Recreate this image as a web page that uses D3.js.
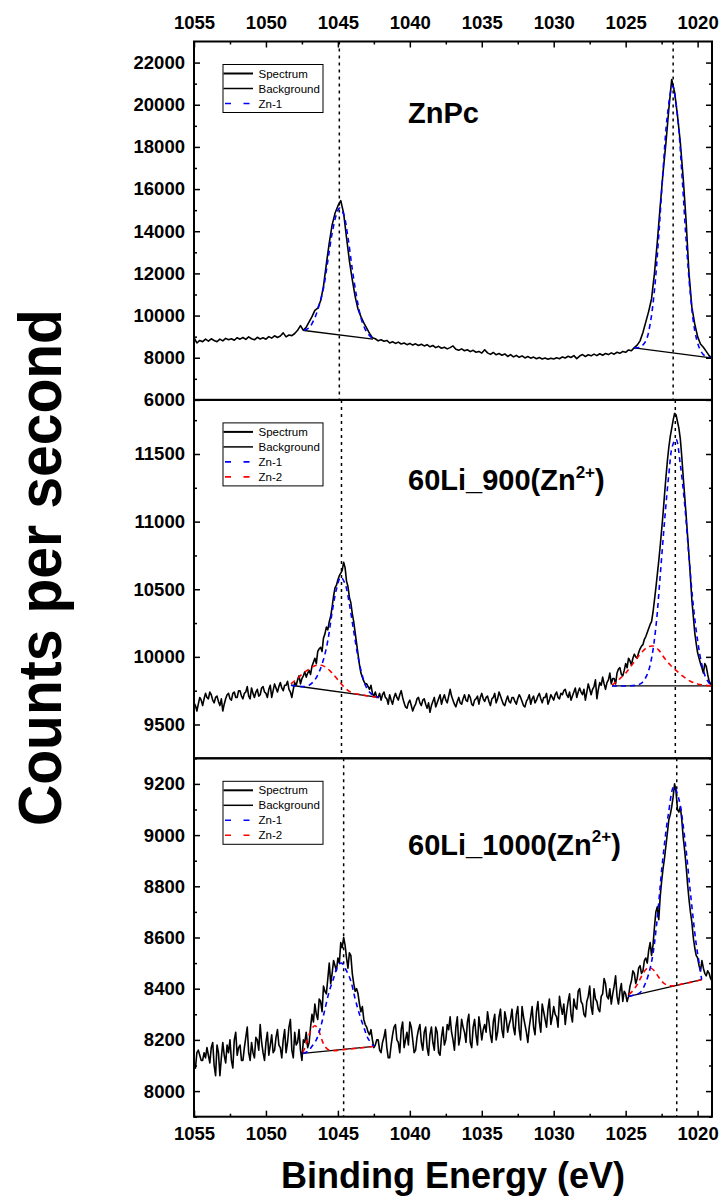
<!DOCTYPE html>
<html>
<head>
<meta charset="utf-8">
<title>Zn 2p XPS</title>
<script src="https://d3js.org/d3.v7.min.js"></script>
<style>
  body { margin: 0; background: #fff; }
  svg text { font-family: "Liberation Sans", Arial, sans-serif; fill: #000; }
  .axis .tick text { font-size: 18.5px; font-weight: bold; }
  .axis .tick line { stroke: #000; stroke-width: 1.5px; }
  .frame { fill: none; stroke: #000; stroke-width: 2px; }
  .spectrum { fill: none; stroke: #000; stroke-width: 1.6px; stroke-linejoin: round; }
  .background { fill: none; stroke: #000; stroke-width: 1.3px; }
  .zn1 { fill: none; stroke: #0000ff; stroke-width: 1.6px; stroke-dasharray: 5,4; }
  .zn2 { fill: none; stroke: #ff0000; stroke-width: 1.6px; stroke-dasharray: 5,4; }
  .marker { stroke: #000; stroke-width: 1.5px; stroke-dasharray: 3,4; }
  .legend rect { fill: #fff; stroke: #000; stroke-width: 1px; }
  .legend text { font-size: 11.5px; }
  .panel-label { font-size: 29px; font-weight: bold; }
</style>
</head>
<body>
<svg id="chart" width="722" height="1198"></svg>
<script>
// ---- data ----
const energyDomain = [1055, 1019];
const energyTicks = [1055, 1050, 1045, 1040, 1035, 1030, 1025, 1020];
const energyStart = 1055;   // every spectrum starts at 1055 eV and runs down in fixed steps

// ZnPc, every 0.2 eV
const znpcStep = 0.2;
const znpcSpectrum = [
  8950, 8700, 8820, 8760, 8880, 8790, 8900, 8820, 8760, 8880,     // 1055.0
  8800, 8920, 8850, 8900, 8830, 8950, 8880, 8960, 8870, 8990,     // 1053.0
  8900, 8850, 8970, 8890, 8950, 8880, 9000, 8930, 9040, 8960,     // 1051.0
  9030, 9180, 8990, 9080, 9050, 9150, 9300, 9520, 9300, 9450,     // 1049.0
  9700, 9950, 10250, 10350, 10700, 11400, 12450, 13450, 14300, 14850, // 1047.0
  15200, 15450, 14850, 13700, 12600, 11700, 10900, 10300, 9950, 9650, // 1045.0
  9400, 9150, 8950, 8900, 8800, 8850, 8780, 8820, 8700, 8760,     // 1043.0
  8680, 8740, 8650, 8700, 8620, 8680, 8600, 8660, 8580, 8640,     // 1041.0
  8560, 8620, 8520, 8580, 8480, 8540, 8450, 8500, 8420, 8480,     // 1039.0
  8560, 8400, 8360, 8420, 8330, 8380, 8290, 8350, 8260, 8300,     // 1037.0
  8220, 8380, 8230, 8160, 8250, 8140, 8200, 8120, 8180, 8060,     // 1035.0
  8150, 8040, 8110, 8020, 8090, 7990, 8060, 7980, 8030, 7950,     // 1033.0
  8010, 7940, 7990, 7930, 7980, 7940, 8000, 7950, 8040, 7990,     // 1031.0
  8070, 8010, 8100, 7960, 8080, 8150, 8060, 8140, 8090, 8170,     // 1029.0
  8100, 8190, 8120, 8200, 8150, 8230, 8170, 8260, 8210, 8300,     // 1027.0
  8260, 8370, 8330, 8480, 8600, 8800, 9200, 9700, 10200, 10800,   // 1025.0
  12000, 13500, 15200, 16800, 18200, 19800, 21200, 20600, 19500, 18200, // 1023.0
  16500, 14500, 12000, 10400, 9600, 9000, 8650, 8500, 8300, 8100, // 1021.0
  7950                                                            // 1019.0
];
const znpcBackground = [[[1047.35, 9292], [1042.56, 8879]], [[1024.4, 8470], [1019.07, 7995]]];
const znpcZn1Left = [[1047.35, 9300], [1047.0, 9420], [1046.6, 9900], [1046.3, 10500], [1046.0, 11300],
  [1045.7, 12600], [1045.4, 13900], [1045.1, 14800], [1044.88, 15100], [1044.6, 14800], [1044.3, 13700],
  [1044.0, 12200], [1043.7, 10900], [1043.4, 9900], [1043.1, 9350], [1042.8, 9050], [1042.55, 8900]];
const znpcZn1Right = [[1024.4, 8470], [1024.0, 8500], [1023.6, 8800], [1023.3, 9600], [1023.0, 11200],
  [1022.7, 13800], [1022.4, 16900], [1022.1, 19500], [1021.75, 20900], [1021.4, 19500], [1021.1, 16800],
  [1020.8, 13600], [1020.5, 11000], [1020.2, 9300], [1019.9, 8500], [1019.6, 8150], [1019.3, 8030], [1019.07, 7995]];
const znpcMarkers = [1044.9, 1021.7];
const znpcRange = [6000, 23000];
const znpcTicks = [6000, 8000, 10000, 12000, 14000, 16000, 18000, 20000, 22000];

// 60Li_900, every 0.1 eV
const li900Step = 0.1;
const li900Spectrum = [
  9660, 9640, 9600, 9650, 9700, 9680, 9640, 9690, 9730, 9700, 9690, 9740, 9720, 9680, 9660, 9700, 9710, 9670, 9640, 9690, // 1055.0
  9600, 9650, 9690, 9720, 9730, 9690, 9680, 9730, 9740, 9700, 9700, 9750, 9750, 9710, 9690, 9730, 9740, 9780, 9710, 9690, // 1053.0
  9770, 9730, 9700, 9740, 9760, 9710, 9720, 9770, 9780, 9740, 9730, 9700, 9760, 9790, 9700, 9750, 9800, 9770, 9740, 9780, // 1051.0
  9810, 9770, 9750, 9790, 9790, 9820, 9760, 9740, 9700, 9760, 9810, 9790, 9830, 9860, 9800, 9840, 9860, 9890, 9850, 9880, // 1049.0
  9900, 9870, 9930, 9960, 9990, 9950, 10040, 10060, 10070, 10040, 10140, 10170, 10220, 10200, 10260, 10300, 10370, 10450, 10510, 10530, // 1047.0
  10570, 10600, 10620, 10640, 10700, 10660, 10560, 10520, 10440, 10400, 10320, 10260, 10180, 10100, 10020, 9940, 9880, 9850, 9820, 9800, // 1045.0
  9800, 9780, 9760, 9790, 9730, 9710, 9740, 9700, 9700, 9730, 9680, 9720, 9740, 9700, 9690, 9650, 9720, 9680, 9650, 9700, // 1043.0
  9730, 9700, 9680, 9720, 9750, 9700, 9660, 9630, 9620, 9660, 9680, 9640, 9600, 9630, 9650, 9690, 9700, 9660, 9640, 9680, // 1041.0
  9690, 9650, 9620, 9660, 9590, 9640, 9670, 9700, 9630, 9660, 9690, 9720, 9650, 9690, 9720, 9680, 9660, 9710, 9760, 9710, // 1039.0
  9680, 9650, 9630, 9670, 9700, 9660, 9650, 9690, 9720, 9680, 9670, 9720, 9700, 9650, 9640, 9680, 9690, 9710, 9650, 9700, // 1037.0
  9730, 9690, 9670, 9700, 9710, 9670, 9640, 9690, 9700, 9730, 9660, 9690, 9740, 9710, 9680, 9650, 9640, 9680, 9710, 9670, // 1035.0
  9660, 9700, 9700, 9670, 9650, 9690, 9720, 9700, 9670, 9640, 9630, 9670, 9690, 9720, 9650, 9690, 9710, 9660, 9680, 9710, // 1033.0
  9730, 9690, 9660, 9700, 9700, 9730, 9650, 9680, 9720, 9700, 9680, 9720, 9740, 9700, 9690, 9730, 9720, 9750, 9760, 9720, // 1031.0
  9700, 9740, 9680, 9710, 9740, 9770, 9700, 9740, 9770, 9740, 9720, 9760, 9680, 9740, 9800, 9760, 9720, 9760, 9780, 9830, // 1029.0
  9690, 9760, 9810, 9790, 9850, 9800, 9760, 9810, 9830, 9880, 9800, 9840, 9840, 9800, 9880, 9910, 9920, 9870, 9860, 9900, // 1027.0
  9950, 9920, 9990, 9970, 9940, 9990, 10020, 10000, 9990, 10030, 10060, 10080, 10090, 10130, 10150, 10180, 10210, 10240, 10260, 10330, // 1025.0
  10420, 10510, 10610, 10710, 10820, 10940, 11060, 11200, 11330, 11450, 11550, 11630, 11690, 11750, 11800, 11790, 11740, 11690, 11610, 11480, // 1023.0
  11330, 11190, 11050, 10900, 10750, 10590, 10420, 10300, 10180, 10100, 10030, 9990, 9950, 9920, 9880, 9950, 9930, 9870, 9820, 9800, // 1021.0
  9790                                                                                                   // 1019.0
];
const li900Background = [[[1048.26, 9790], [1042.16, 9700]], [[1025.95, 9785], [1018.9, 9785]]];
const li900Zn1Left = [[1048.26, 9790], [1047.5, 9780], [1047.0, 9790], [1046.6, 9830], [1046.3, 9890],
  [1046.0, 9980], [1045.7, 10120], [1045.4, 10330], [1045.1, 10500], [1044.8, 10590], [1044.5, 10540],
  [1044.2, 10390], [1043.9, 10190], [1043.6, 10000], [1043.3, 9860], [1043.0, 9770], [1042.6, 9720], [1042.16, 9700]];
const li900Zn2Left = [[1048.26, 9800], [1047.8, 9840], [1047.4, 9880], [1047.0, 9910], [1046.6, 9935],
  [1046.2, 9940], [1045.8, 9920], [1045.4, 9880], [1045.0, 9830], [1044.6, 9780], [1044.2, 9745],
  [1043.8, 9728], [1043.4, 9722], [1043.0, 9712], [1042.6, 9706], [1042.16, 9700]];
const li900Zn1Right = [[1025.95, 9785], [1025.0, 9785], [1024.3, 9790], [1023.9, 9805], [1023.5, 9870],
  [1023.2, 9990], [1022.9, 10220], [1022.6, 10600], [1022.3, 11000], [1022.0, 11350], [1021.75, 11560],
  [1021.5, 11610], [1021.2, 11420], [1020.9, 11130], [1020.6, 10740], [1020.3, 10380], [1020.0, 10120],
  [1019.7, 9940], [1019.4, 9840], [1019.1, 9795], [1018.9, 9785]];
const li900Zn2Right = [[1025.95, 9790], [1025.5, 9830], [1025.0, 9880], [1024.5, 9950], [1024.0, 10020],
  [1023.5, 10070], [1023.1, 10080], [1022.7, 10050], [1022.3, 9990], [1021.9, 9940], [1021.5, 9900],
  [1021.0, 9855], [1020.5, 9820], [1020.0, 9800], [1019.5, 9790], [1018.9, 9785]];
const li900Markers = [1044.75, 1021.55];
const li900Range = [9250, 11900];
const li900Ticks = [9500, 10000, 10500, 11000, 11500];

// 60Li_1000, every 0.1 eV
const li1000Step = 0.1;
const li1000Spectrum = [
  8110, 8090, 8150, 8160, 8140, 8120, 8120, 8150, 8130, 8170, 8140, 8110, 8170, 8190, 8100, 8060, 8180, 8150, 8060, 8130, // 1055.0
  8190, 8140, 8110, 8180, 8150, 8200, 8120, 8090, 8200, 8230, 8140, 8170, 8180, 8120, 8120, 8170, 8210, 8250, 8150, 8120, // 1053.0
  8190, 8150, 8130, 8210, 8200, 8160, 8260, 8190, 8150, 8120, 8190, 8230, 8140, 8180, 8220, 8150, 8160, 8210, 8240, 8180, // 1051.0
  8170, 8130, 8200, 8240, 8150, 8190, 8250, 8280, 8160, 8130, 8230, 8180, 8190, 8240, 8160, 8120, 8200, 8190, 8230, 8170, // 1049.0
  8190, 8250, 8300, 8270, 8340, 8300, 8280, 8360, 8350, 8310, 8410, 8390, 8380, 8440, 8500, 8420, 8460, 8510, 8490, 8470, // 1047.0
  8520, 8500, 8580, 8560, 8600, 8570, 8520, 8480, 8540, 8530, 8460, 8420, 8390, 8400, 8380, 8340, 8310, 8330, 8280, 8260, // 1045.0
  8250, 8230, 8220, 8240, 8200, 8170, 8180, 8200, 8200, 8160, 8150, 8190, 8210, 8240, 8170, 8130, 8130, 8180, 8220, 8250, // 1043.0
  8260, 8200, 8190, 8150, 8240, 8270, 8170, 8200, 8230, 8180, 8270, 8250, 8200, 8150, 8160, 8210, 8240, 8260, 8190, 8160, // 1041.0
  8230, 8250, 8170, 8140, 8220, 8250, 8190, 8160, 8250, 8230, 8150, 8140, 8210, 8250, 8180, 8200, 8260, 8240, 8290, 8230, // 1039.0
  8200, 8160, 8250, 8290, 8180, 8210, 8280, 8250, 8230, 8190, 8270, 8300, 8190, 8170, 8250, 8280, 8220, 8180, 8290, 8250, // 1037.0
  8200, 8240, 8260, 8230, 8310, 8270, 8220, 8190, 8270, 8300, 8200, 8230, 8290, 8320, 8240, 8210, 8310, 8280, 8230, 8260, // 1035.0
  8280, 8320, 8250, 8220, 8300, 8330, 8240, 8200, 8330, 8290, 8260, 8230, 8190, 8250, 8290, 8330, 8250, 8220, 8310, 8350, // 1033.0
  8270, 8230, 8340, 8310, 8280, 8250, 8320, 8360, 8260, 8290, 8330, 8300, 8290, 8250, 8370, 8330, 8300, 8340, 8260, 8310, // 1031.0
  8350, 8380, 8300, 8270, 8360, 8330, 8320, 8390, 8400, 8350, 8340, 8300, 8290, 8350, 8370, 8410, 8330, 8300, 8400, 8360, // 1029.0
  8350, 8320, 8310, 8370, 8380, 8440, 8420, 8370, 8360, 8400, 8340, 8380, 8410, 8450, 8370, 8340, 8390, 8420, 8350, 8390, // 1027.0
  8380, 8350, 8370, 8410, 8430, 8470, 8460, 8420, 8440, 8480, 8490, 8460, 8470, 8510, 8520, 8500, 8550, 8580, 8530, 8570, // 1025.0
  8640, 8700, 8720, 8670, 8760, 8820, 8870, 8910, 8960, 9010, 9060, 9080, 9110, 9150, 9200, 9170, 9100, 9090, 9110, 9060, // 1023.0
  8990, 8940, 8880, 8810, 8750, 8700, 8660, 8600, 8560, 8530, 8520, 8490, 8470, 8510, 8480, 8460, 8450, 8470, 8460, 8440, // 1021.0
  8430                                                                                                   // 1019.0
];
const li1000Background = [[[1047.43, 8147], [1042.5, 8175]], [[1024.78, 8370], [1019.72, 8435]]];
const li1000Zn1Left = [[1047.43, 8147], [1047.1, 8155], [1046.8, 8175], [1046.5, 8200], [1046.2, 8250],
  [1045.9, 8320], [1045.6, 8390], [1045.3, 8440], [1045.0, 8490], [1044.75, 8500], [1044.4, 8470],
  [1044.1, 8430], [1043.8, 8360], [1043.5, 8300], [1043.2, 8250], [1042.9, 8205], [1042.5, 8175]];
const li1000Zn2Left = [[1047.43, 8150], [1047.2, 8185], [1047.0, 8220], [1046.8, 8245], [1046.6, 8255],
  [1046.4, 8245], [1046.2, 8215], [1046.0, 8185], [1045.7, 8163], [1045.3, 8158], [1044.5, 8163],
  [1043.5, 8168], [1042.5, 8175]];
const li1000Zn1Right = [[1024.78, 8370], [1024.4, 8376], [1024.0, 8385], [1023.6, 8425], [1023.2, 8505],
  [1022.85, 8650], [1022.45, 8890], [1022.05, 9075], [1021.65, 9190], [1021.3, 9140], [1020.9, 8990],
  [1020.5, 8775], [1020.1, 8575], [1019.85, 8485], [1019.72, 8435]];
const li1000Zn2Right = [[1024.78, 8377], [1024.5, 8392], [1024.2, 8416], [1023.9, 8448], [1023.6, 8475],
  [1023.4, 8483], [1023.1, 8475], [1022.8, 8453], [1022.5, 8429], [1022.2, 8416], [1021.8, 8411],
  [1021.0, 8419], [1020.0, 8431], [1019.72, 8435]];
const li1000Markers = [1044.6, 1021.45];
const li1000Range = [7900, 9300];
const li1000Ticks = [8000, 8200, 8400, 8600, 8800, 9000, 9200];

// ---- layout ----
const svg = d3.select("#chart");
const plotLeft = 194, plotRight = 712, plotTop = 41.5, panelH = 358.4;
const plotBottom = plotTop + 3 * panelH;

const x = d3.scaleLinear().domain(energyDomain).range([plotLeft, plotRight]);
const xMinor = d3.range(1052.5, 1019, -5);

const panels = [
  { title: "ZnPc", sup: null, spectrum: znpcSpectrum, step: znpcStep, bg: znpcBackground,
    zn1: [znpcZn1Left, znpcZn1Right], zn2: [], markers: znpcMarkers,
    range: znpcRange, ticks: znpcTicks, minorStep: 1000, labelY: 81.5,
    legend: ["Spectrum", "Background", "Zn-1"] },
  { title: "60Li_900(Zn", sup: "2+", spectrum: li900Spectrum, step: li900Step, bg: li900Background,
    zn1: [li900Zn1Left, li900Zn1Right], zn2: [li900Zn2Left, li900Zn2Right], markers: li900Markers,
    range: li900Range, ticks: li900Ticks, minorStep: 250, labelY: 90.5,
    legend: ["Spectrum", "Background", "Zn-1", "Zn-2"] },
  { title: "60Li_1000(Zn", sup: "2+", spectrum: li1000Spectrum, step: li1000Step, bg: li1000Background,
    zn1: [li1000Zn1Left, li1000Zn1Right], zn2: [li1000Zn2Left, li1000Zn2Right], markers: li1000Markers,
    range: li1000Range, ticks: li1000Ticks, minorStep: 100, labelY: 96.5,
    legend: ["Spectrum", "Background", "Zn-1", "Zn-2"] }
];

const legendStyle = {
  "Spectrum": { cls: "spectrum", w: 2 },
  "Background": { cls: "background", w: 1.5 },
  "Zn-1": { cls: "zn1", w: 1.6 },
  "Zn-2": { cls: "zn2", w: 1.6 }
};

panels.forEach((p, i) => {
  const g = svg.append("g").attr("transform", `translate(0,${plotTop + i * panelH})`);
  const y = d3.scaleLinear().domain(p.range).range([panelH, 0]);
  const minor = d3.range(Math.ceil(p.range[0] / p.minorStep) * p.minorStep, p.range[1], p.minorStep)
    .filter(v => !p.ticks.includes(v));

  g.append("clipPath").attr("id", "clip" + i)
    .append("rect").attr("x", plotLeft).attr("y", 0).attr("width", plotRight - plotLeft).attr("height", panelH);

  const area = g.append("g").attr("clip-path", `url(#clip${i})`);

  // dotted peak markers
  area.selectAll("line.marker").data(p.markers).join("line").attr("class", "marker")
    .attr("x1", d => x(d)).attr("x2", d => x(d)).attr("y1", 0).attr("y2", panelH);

  const line = d3.line().x(d => x(d[0])).y(d => y(d[1]));
  const smooth = d3.line().x(d => x(d[0])).y(d => y(d[1])).curve(d3.curveCatmullRom);

  const pts = p.spectrum.map((v, k) => [energyStart - k * p.step, v]);
  area.append("path").attr("class", "spectrum").attr("d", line(pts));

  area.selectAll("path.background").data(p.bg).join("path").attr("class", "background").attr("d", line);
  area.selectAll("path.zn2").data(p.zn2).join("path").attr("class", "zn2").attr("d", smooth);
  area.selectAll("path.zn1").data(p.zn1).join("path").attr("class", "zn1").attr("d", smooth);

  // y axes (ticks point inward)
  const left = g.append("g").attr("class", "axis").attr("transform", `translate(${plotLeft},0)`)
    .call(d3.axisLeft(y).tickValues(p.ticks).tickSize(-6).tickPadding(9).tickFormat(d3.format("d")));
  left.select(".domain").remove();
  g.append("g").attr("class", "axis").attr("transform", `translate(${plotLeft},0)`)
    .call(d3.axisLeft(y).tickValues(minor).tickSize(-3).tickFormat(""))
    .select(".domain").remove();
  g.append("g").attr("class", "axis").attr("transform", `translate(${plotRight},0)`)
    .call(d3.axisRight(y).tickValues(p.ticks).tickSize(-6).tickFormat(""))
    .select(".domain").remove();
  g.append("g").attr("class", "axis").attr("transform", `translate(${plotRight},0)`)
    .call(d3.axisRight(y).tickValues(minor).tickSize(-3).tickFormat(""))
    .select(".domain").remove();

  // panel frame
  g.append("rect").attr("class", "frame")
    .attr("x", plotLeft).attr("y", 0).attr("width", plotRight - plotLeft).attr("height", panelH);

  // sample name
  const t = g.append("text").attr("class", "panel-label").attr("x", 408).attr("y", p.labelY);
  t.append("tspan").text(p.title);
  if (p.sup) {
    t.append("tspan").attr("dy", -12.5).attr("font-size", "17px").text(p.sup);
    t.append("tspan").attr("dy", 12.5).text(")");
  }

  // legend
  const lg = g.append("g").attr("class", "legend").attr("transform", "translate(223,23)");
  lg.append("rect").attr("x", 0).attr("y", 0).attr("width", 100).attr("height", 18 + (p.legend.length - 1) * 15);
  const rows = lg.selectAll("g.row").data(p.legend).join("g").attr("class", "row")
    .attr("transform", (d, k) => `translate(0,${9 + k * 15})`);
  rows.append("line")
    .attr("class", d => legendStyle[d].cls)
    .attr("x1", d => d.startsWith("Zn") ? 2 : 0.5).attr("x2", 30).attr("y1", 0).attr("y2", 0)
    .style("stroke-width", d => legendStyle[d].w)
    .style("stroke-dasharray", d => d.startsWith("Zn") ? "6,12.5" : null);
  rows.append("text").attr("x", 35.5).attr("dy", "0.36em").text(d => d);
});

// energy axes, top and bottom
const topAxis = svg.append("g").attr("class", "axis").attr("transform", `translate(0,${plotTop})`)
  .call(d3.axisTop(x).tickValues(energyTicks).tickSize(-6).tickPadding(13).tickFormat(d3.format("d")));
topAxis.select(".domain").remove();
svg.append("g").attr("class", "axis").attr("transform", `translate(0,${plotTop})`)
  .call(d3.axisTop(x).tickValues(xMinor).tickSize(-3).tickFormat(""))
  .select(".domain").remove();
const bottomAxis = svg.append("g").attr("class", "axis").attr("transform", `translate(0,${plotBottom})`)
  .call(d3.axisBottom(x).tickValues(energyTicks).tickSize(-6).tickPadding(10).tickFormat(d3.format("d")));
bottomAxis.select(".domain").remove();
svg.append("g").attr("class", "axis").attr("transform", `translate(0,${plotBottom})`)
  .call(d3.axisBottom(x).tickValues(xMinor).tickSize(-3).tickFormat(""))
  .select(".domain").remove();

// axis titles
svg.append("text")
  .attr("x", (plotLeft + plotRight) / 2).attr("y", 1188)
  .attr("text-anchor", "middle")
  .style("font-size", "36px").style("font-weight", "bold")
  .text("Binding Energy (eV)");

svg.append("text")
  .attr("transform", "translate(61,567.5) rotate(-90)")
  .attr("text-anchor", "middle")
  .attr("textLength", 517).attr("lengthAdjust", "spacingAndGlyphs")
  .style("font-size", "61px").style("font-weight", "bold")
  .text("Counts per second");
</script>
</body>
</html>
